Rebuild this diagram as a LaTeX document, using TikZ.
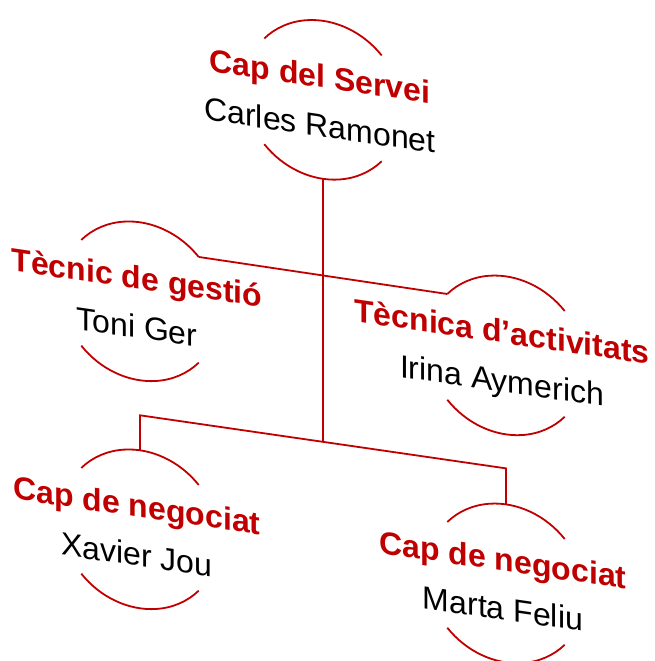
\documentclass[tikz,border=0pt]{standalone}
\usepackage{fontspec}
\setmainfont{Liberation Sans}
\definecolor{capred}{RGB}{192,0,0}
\tikzset{
  ring/.style={circle, minimum size=158pt, inner sep=0pt, outer sep=0pt},
  rank/.style={anchor=base, inner sep=0pt, text=capred, font=\fontsize{32}{38}\selectfont\bfseries},
  person/.style={anchor=base, inner sep=0pt, font=\fontsize{32}{38}\selectfont},
  link/.style={draw=capred, line width=1.8pt},
}

\begin{document}
\begin{tikzpicture}[x=1pt,y=1pt]
	\useasboundingbox (0,0) rectangle (655,-661);
	\begin{scope}[yslant=-0.145, transform shape]
		% circles of the posts
		\node[ring] (boss) at (323,-53) {};
		\node[ring] (gest) at (140,-281) {};
		\node[ring] (activ) at (506,-282) {};
		\node[ring] (neg1) at (140,-509) {};
		\node[ring] (neg2) at (506,-510) {};
		% posts and names
		\node[rank] (bossR) at (320,-41) {Cap del Servei};
		\node[person] (bossP) at (320,-90) {Carles Ramonet};
		\node[rank] (gestR) at (137,-269) {Tècnic de gestió};
		\node[person] (gestP) at (137,-318) {Toni Ger};
		\node[rank] (activR) at (502,-270) {Tècnica d’activitats};
		\node[person] (activP) at (502,-319) {Irina Aymerich};
		\node[rank] (neg1R) at (137,-497) {Cap de negociat};
		\node[person] (neg1P) at (137,-546) {Xavier Jou};
		\node[rank] (neg2R) at (503,-498) {Cap de negociat};
		\node[person] (neg2P) at (503,-547) {Marta Feliu};
		\foreach \n in {boss,gest,activ,neg1,neg2}{
			\draw[link] (\n.42) arc[start angle=42, end angle=138, radius=79pt]
				(\n.222) arc[start angle=222, end angle=318, radius=79pt];
		}
		% connectors
		\coordinate (busL) at (140,-395);
		\coordinate (bus) at (323,-395);
		\coordinate (busR) at (506,-395);
		\draw[link] (gest.42) -- (activ.138);
		\draw[link] (boss.south) -- (bus);
		\draw[link] (neg1.north) -- (busL) -- (busR) -- (neg2.north);
	\end{scope}
\end{tikzpicture}
\end{document}
